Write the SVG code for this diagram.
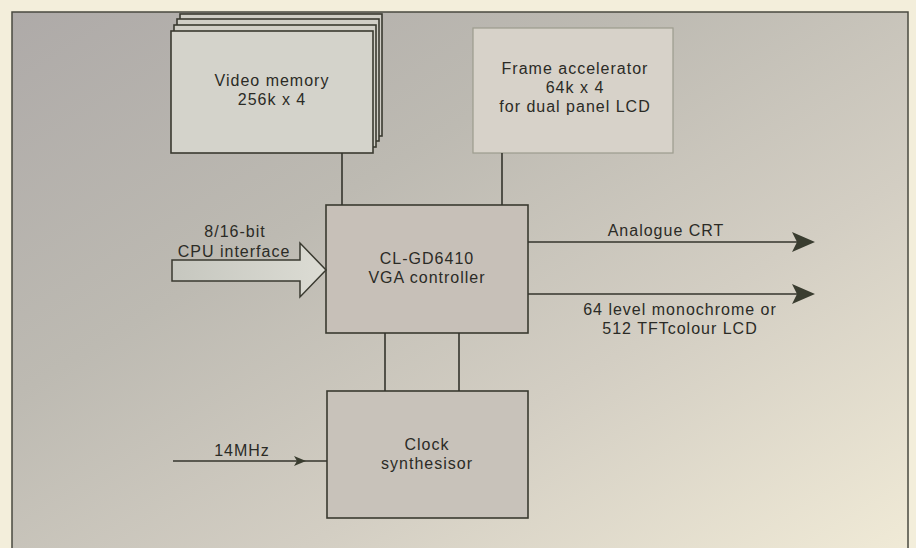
<svg xmlns="http://www.w3.org/2000/svg" width="916" height="548" viewBox="0 0 916 548">
  <defs>
    <linearGradient id="bg" x1="0" y1="0" x2="1" y2="1">
      <stop offset="0" stop-color="#aeaaa8"/>
      <stop offset="0.35" stop-color="#bdbab2"/>
      <stop offset="0.65" stop-color="#d3cec3"/>
      <stop offset="1" stop-color="#f1ebd7"/>
    </linearGradient>
    <linearGradient id="shaft" x1="0" y1="0" x2="1" y2="0">
      <stop offset="0" stop-color="#c6c7bf"/>
      <stop offset="1" stop-color="#dcdcd4"/>
    </linearGradient>
    <style>
      .box { stroke: #3a3a30; stroke-width: 1.6; }
      .line { stroke: #34342c; stroke-width: 1.6; fill: none; }
      .txt { font-family: "Liberation Sans", Arial, sans-serif; font-size: 16px; fill: #2b2b26; text-anchor: middle; letter-spacing: 1px; }
      .head { fill: #3a3d30; }
    </style>
  </defs>

  <rect x="0" y="0" width="916" height="548" fill="#f3eedb"/>
  <rect x="12" y="12" width="896" height="550" fill="url(#bg)" stroke="#4a4a40" stroke-width="1.5"/>

  <g id="video-memory">
    <rect class="box" x="180" y="14" width="202" height="122" fill="#cfcdc5"/>
    <rect class="box" x="177" y="19" width="202" height="122" fill="#d0cec6"/>
    <rect class="box" x="174" y="25" width="202" height="122" fill="#d1cfc7"/>
    <rect class="box" x="171" y="31" width="202" height="122" fill="#d4d3cb"/>
    <text class="txt" x="272" y="86">Video memory</text>
    <text class="txt" x="272" y="105">256k x 4</text>
  </g>

  <g id="frame-accelerator">
    <rect x="473" y="28" width="200" height="125" fill="#d7d2c9" stroke="#9c9c8e" stroke-width="1.2"/>
    <text class="txt" x="575" y="74">Frame accelerator</text>
    <text class="txt" x="575" y="93">64k x 4</text>
    <text class="txt" x="575" y="112">for dual panel LCD</text>
  </g>

  <g id="vga-controller">
    <rect class="box" x="326" y="205" width="202" height="128" fill="#c7c0b8"/>
    <text class="txt" x="427" y="264">CL-GD6410</text>
    <text class="txt" x="427" y="283">VGA controller</text>
  </g>

  <g id="clock-synthesisor">
    <rect class="box" x="327" y="391" width="201" height="127" fill="#c8c2ba"/>
    <text class="txt" x="427" y="450">Clock</text>
    <text class="txt" x="427" y="469">synthesisor</text>
  </g>

  <g id="cpu-interface">
    <polygon points="172,260 300,260 300,243 326,270 300,297 300,281 172,281" fill="url(#shaft)" stroke="#3a3a30" stroke-width="1.5"/>
    <text class="txt" x="235" y="237">8/16-bit</text>
    <text class="txt" x="234" y="257">CPU interface</text>
  </g>

  <g id="connectors">
    <line class="line" x1="342" y1="153" x2="342" y2="205"/>
    <line class="line" x1="502" y1="153" x2="502" y2="205"/>
    <line class="line" x1="385" y1="333" x2="385" y2="391"/>
    <line class="line" x1="459" y1="333" x2="459" y2="391"/>
    <line class="line" x1="528" y1="242" x2="800" y2="242"/>
    <polygon class="head" points="815,242 792,232 797,242 792,252"/>
    <line class="line" x1="528" y1="294" x2="800" y2="294"/>
    <polygon class="head" points="815,294 792,284 797,294 792,304"/>
    <line class="line" x1="173" y1="461" x2="327" y2="461"/>
    <polygon class="head" points="306,461 294,456 297,461 294,466"/>
  </g>

  <g id="labels">
    <text class="txt" x="666" y="236">Analogue CRT</text>
    <text class="txt" x="680" y="315">64 level monochrome or</text>
    <text class="txt" x="680" y="334">512 TFTcolour LCD</text>
    <text class="txt" x="242" y="456">14MHz</text>
  </g>
</svg>
